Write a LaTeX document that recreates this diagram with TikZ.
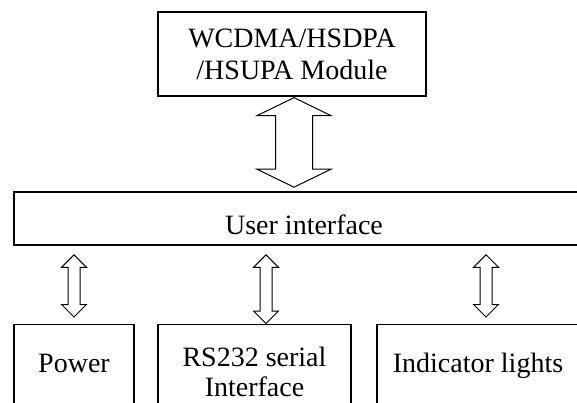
\documentclass[tikz,border=0pt]{standalone}
\usepackage{fontspec}
\setmainfont{Liberation Serif}
\usetikzlibrary{calc}
\newcommand{\blockarrow}[5]{%
  \draw[conn] (#1) -- ($(#1)+(#3,#5)$) -- ($(#1)+(#4,#5)$) -- ($(#2)+(#4,-#5)$)
    -- ($(#2)+(#3,-#5)$) -- (#2) -- ($(#2)+(-#3,-#5)$) -- ($(#2)+(-#4,-#5)$)
    -- ($(#1)+(-#4,#5)$) -- ($(#1)+(-#3,#5)$) -- cycle;}
\begin{document}
\begin{tikzpicture}[x=1pt,y=-1pt,
  box/.style={draw, line width=1.3pt, inner sep=0pt, align=center,
    font=\fontsize{28}{32}\selectfont},
  conn/.style={draw, line width=1pt, line join=miter, fill=white}]
\useasboundingbox (0,0) rectangle (577,403);
\clip (0,0) rectangle (577,403);
\node[box, minimum width=268pt, minimum height=84pt] (top) at (292,54)
  {WCDMA/HSDPA\\/HSUPA Module};
\node[box, line width=1.6pt, minimum width=580pt, minimum height=53pt,
  text height=31pt, text depth=0pt] (ui) at (304,218.5) {User interface};
\node[box, anchor=north, minimum width=120pt, minimum height=106pt,
  text height=19.4pt, text depth=29.4pt] (pw) at (74,324) {Power};
\node[box, anchor=north, minimum width=193pt, minimum height=95pt,
  font=\fontsize{28}{30}\selectfont] (rs) at (254.5,324) {RS232 serial\\Interface};
\node[box, anchor=north, minimum width=202pt, minimum height=106pt,
  text height=19.4pt, text depth=29.4pt] (il) at (478,324) {Indicator lights};
\coordinate (xa) at (294,0);
\coordinate (xp) at (74,0);
\coordinate (xr) at (266,0);
\coordinate (xi) at (486,0);
\coordinate (a1) at ($(xa |- top.south)+(0,1)$);
\coordinate (a2) at ($(xa |- ui.north)+(0,-4)$);
\coordinate (p1) at ($(xp |- ui.south)+(0,9)$);
\coordinate (p2) at ($(xp |- pw.north)+(0,-7)$);
\coordinate (r1) at ($(xr |- ui.south)+(0,9)$);
\coordinate (r2) at ($(xr |- rs.north)+(0,-0.5)$);
\coordinate (i1) at ($(xi |- ui.south)+(0,9)$);
\coordinate (i2) at ($(xi |- il.north)+(0,-7)$);
\blockarrow{a1}{a2}{37}{18.5}{18}
\blockarrow{p1}{p2}{12.5}{6}{12.5}
\blockarrow{r1}{r2}{12.5}{6}{12.5}
\blockarrow{i1}{i2}{12.5}{6}{12.5}
\end{tikzpicture}
\end{document}
